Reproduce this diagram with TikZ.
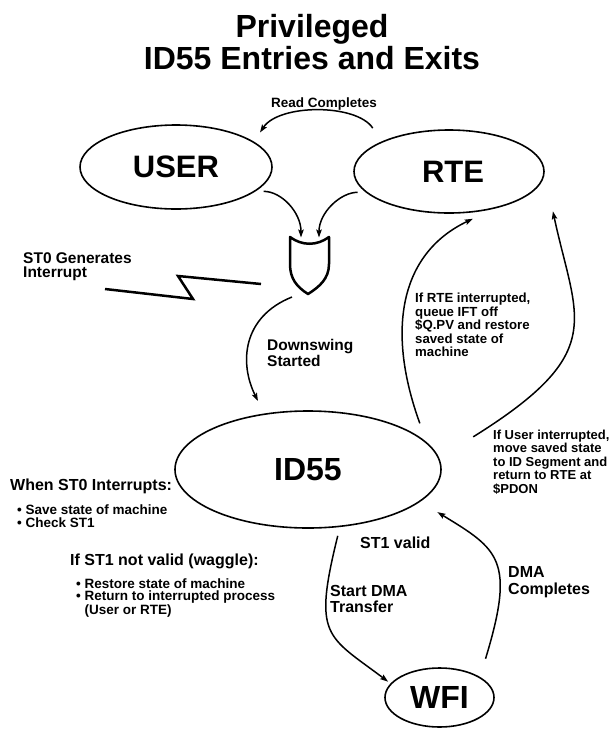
\documentclass[tikz,border=0pt]{standalone}
\usepackage{fontspec}
\setmainfont{Liberation Sans}
\usetikzlibrary{arrows.meta,shapes.geometric}
\tikzset{
  stateell/.style={draw, ellipse, line width=1.6pt, inner sep=0pt, font=\bfseries\fontsize{31}{31}\selectfont},
  conn/.style={line width=1.5pt},
  arr/.style={conn, -{Stealth[length=8pt,width=5.5pt,inset=1.5pt]}},
  titlefont/.style={inner sep=0pt, font=\bfseries\fontsize{32}{32}\selectfont},
  midtext/.style={inner sep=0pt, align=left, font=\bfseries\fontsize{16}{16}\selectfont},
  smalltext/.style={inner sep=0pt, align=left, font=\bfseries\fontsize{13.5}{13.5}\selectfont},
  heavyline/.style={line width=2.5pt},
}
\begin{document}
\begin{tikzpicture}[x=1pt,y=-1pt]
\fill[white] (0,0) rectangle (613,729);
\useasboundingbox (0,0) rectangle (613,729);

% title
\node[titlefont, anchor=base] (title1) at (312,37) {Privileged};
\node[titlefont, anchor=base] (title2) at (312,69) {ID55 Entries and Exits};

% states
\node[stateell, minimum width=192pt, minimum height=84pt] (USER) at (176,167) {USER};
\node[stateell, minimum width=190pt, minimum height=83pt] (RTE) at (449,171.5) {\hspace{8pt}RTE};
\node[stateell, minimum width=266pt, minimum height=117pt, font=\bfseries\fontsize{32}{32}\selectfont] (ID55) at (308,469.5) {ID55};
\node[stateell, minimum width=109pt, minimum height=59pt, font=\bfseries\fontsize{32}{32}\selectfont] (WFI) at (439.5,697.5) {WFI\hspace{8pt}};

% gate
\draw[heavyline, line join=round] (290,237) .. controls (302,246) and (317,246) .. (329,237)
  -- (329,264) .. controls (329,279) and (319,287) .. (308,294)
  .. controls (297,287) and (290,279) .. (290,264) -- cycle;
\coordinate (gate-in-l) at (301,237.5);
\coordinate (gate-in-r) at (319,237.5);
\coordinate (gate-out) at (292,297);

% lightning
\draw[heavyline, line join=miter] (105,289) -- (193,299) -- (178,276) -- (261,284);

% connectors
\draw[arr, shorten <=16pt, shorten >=11pt] (RTE.156) .. controls +(-25,-38) and +(25,-38) .. (USER.18);
\draw[arr, shorten <=8pt] (USER.-17) .. controls +(26,0) and +(0,-25) .. (gate-in-l);
\draw[arr, shorten <=8pt] (RTE.-166) .. controls +(-25,0) and +(0,-25) .. (gate-in-r);
\draw[arr, shorten >=14pt] (gate-out) .. controls +(-50,20) and +(-25,-50) .. (ID55.128);
\draw[arr, shorten <=20pt, shorten >=23pt] (ID55.13) .. controls +(-40,-110) and +(-95,45) .. (RTE.-40);
\draw[arr, shorten <=40pt, shorten >=39pt] (ID55.5) .. controls +(170,-106) and +(31.5,147) .. (RTE.-1);
\draw[arr, shorten <=19pt, shorten >=20pt] (WFI.27) .. controls +(35.8,-117.3) and +(78.1,47.6) .. (ID55.-16);
\draw[arr, shorten <=9pt, shorten >=3pt] (ID55.-61) .. controls +(-27.3,110.1) and +(-63.9,-48.1) .. (WFI.164);

% labels
\node[smalltext, anchor=base] (readlbl) at (324,107) {Read Completes};
\node[midtext, font=\bfseries\fontsize{15.5}{14}\selectfont, anchor=north west] (st0lbl) at (23,252.9) {ST0 Generates\\Interrupt};
\node[midtext, font=\bfseries\fontsize{15.5}{16}\selectfont, anchor=north west] (downlbl) at (267,338.9) {Downswing\\Started};
\node[smalltext, font=\bfseries\fontsize{13.2}{13.5}\selectfont, anchor=north west] (rtelbl) at (415,293.2) {If RTE interrupted,\\queue IFT off\\\$Q.PV and restore\\saved state of\\machine};
\node[smalltext, font=\bfseries\fontsize{13}{13.5}\selectfont, anchor=north west] (userlbl) at (493,429.4) {If User interrupted,\\move saved state\\to ID Segment and\\return to RTE at\\\$PDON};
\node[midtext, anchor=base west] (whenlbl) at (10,490) {When ST0 Interrupts:};
\node[smalltext, font=\bfseries\fontsize{13.5}{13}\selectfont, anchor=north west] (bul1) at (17,504.2) {\textbullet\ Save state of machine\\\textbullet\ Check ST1};
\node[midtext, anchor=base west] (iflbl) at (70,565) {If ST1 not valid (waggle):};
\node[smalltext, font=\bfseries\fontsize{13.5}{12.5}\selectfont, anchor=north west] (bul2) at (76,578.2) {\textbullet\ Restore state of machine\\\textbullet\ Return to interrupted process\\\phantom{\textbullet\ }(User or RTE)};
\node[midtext, anchor=base west] (st1lbl) at (360,548) {ST1 valid};
\node[midtext, anchor=north west] (startlbl) at (330,585.5) {Start DMA\\Transfer};
\node[midtext, font=\bfseries\fontsize{16}{17}\selectfont, anchor=north west] (dmalbl) at (508,566.5) {DMA\\Completes};
\end{tikzpicture}
\end{document}
